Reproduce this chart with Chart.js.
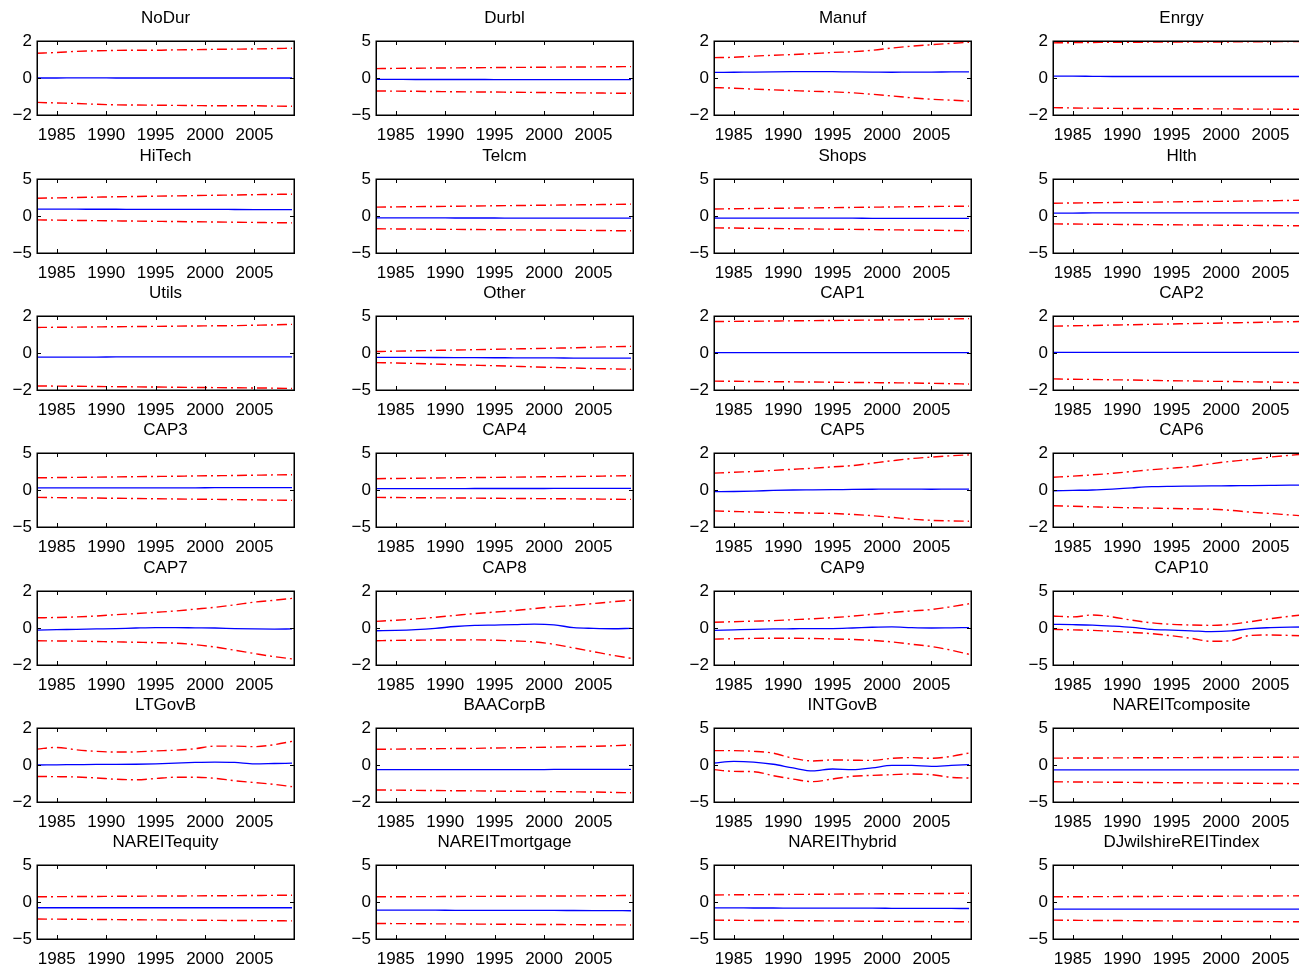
<!DOCTYPE html>
<html><head><meta charset="utf-8">
<script src="https://cdn.jsdelivr.net/npm/chart.js@4.4.1/dist/chart.umd.min.js"></script>
<style>
html,body{margin:0;padding:0;background:#fff;overflow:hidden;width:1299px;height:970px;}
#wrap{position:relative;width:1299px;height:970px;overflow:hidden;background:#fff;}
canvas{position:absolute;}
</style></head><body><div id="wrap"></div>
<script>
// ---------------- DATA ----------------
const years = [1983, 1985, 1987, 1989, 1991, 1993, 1995, 1997, 1999, 2001, 2003, 2005, 2007, 2008.8];
const xTickYears = [1985, 1990, 1995, 2000, 2005];
const panelTitles = ["NoDur","Durbl","Manuf","Enrgy","HiTech","Telcm","Shops","Hlth","Utils","Other","CAP1","CAP2",
  "CAP3","CAP4","CAP5","CAP6","CAP7","CAP8","CAP9","CAP10","LTGovB","BAACorpB","INTGovB","NAREITcomposite",
  "NAREITequity","NAREITmortgage","NAREIThybrid","DJwilshireREITindex"];
const yLimits = [2,5,2,2, 5,5,5,5, 2,5,2,2, 5,5,2,2, 2,2,2,5, 2,2,5,5, 5,5,5,5];

const meanValues = [
  [0.0,0.0,0.01,0.01,0.0,0.0,0.0,0.0,0.0,0.0,0.0,0.0,0.0,0.0],
  [-0.18,-0.19,-0.2,-0.2,-0.2,-0.2,-0.21,-0.21,-0.21,-0.22,-0.22,-0.22,-0.23,-0.23],
  [0.3,0.31,0.32,0.33,0.34,0.35,0.34,0.33,0.32,0.31,0.32,0.32,0.33,0.33],
  [0.1,0.1,0.09,0.08,0.08,0.08,0.08,0.08,0.08,0.08,0.08,0.08,0.08,0.08],
  [0.92,0.92,0.92,0.91,0.91,0.9,0.9,0.9,0.89,0.89,0.88,0.87,0.86,0.85],
  [-0.25,-0.25,-0.26,-0.26,-0.27,-0.27,-0.27,-0.28,-0.28,-0.28,-0.29,-0.29,-0.3,-0.3],
  [-0.27,-0.28,-0.28,-0.29,-0.29,-0.3,-0.3,-0.3,-0.31,-0.31,-0.31,-0.32,-0.32,-0.32],
  [0.4,0.4,0.41,0.41,0.41,0.42,0.42,0.42,0.42,0.43,0.43,0.43,0.43,0.43],
  [-0.22,-0.22,-0.22,-0.22,-0.21,-0.21,-0.21,-0.21,-0.21,-0.21,-0.21,-0.21,-0.21,-0.21],
  [-0.58,-0.59,-0.6,-0.61,-0.62,-0.63,-0.64,-0.65,-0.66,-0.67,-0.68,-0.69,-0.7,-0.7],
  [0.02,0.02,0.02,0.02,0.02,0.02,0.02,0.02,0.02,0.02,0.02,0.02,0.02,0.02],
  [0.03,0.03,0.03,0.03,0.03,0.03,0.03,0.03,0.03,0.03,0.03,0.03,0.03,0.03],
  [0.28,0.28,0.29,0.29,0.29,0.3,0.3,0.3,0.3,0.31,0.31,0.31,0.31,0.31],
  [0.18,0.18,0.19,0.19,0.19,0.2,0.2,0.2,0.2,0.21,0.21,0.21,0.21,0.21],
  [-0.09,-0.08,-0.06,-0.02,0.0,0.01,0.02,0.03,0.04,0.05,0.05,0.04,0.05,0.05],
  [-0.04,-0.02,0.0,0.05,0.12,0.18,0.2,0.21,0.22,0.23,0.24,0.25,0.26,0.27],
  [-0.11,-0.09,-0.07,-0.05,-0.03,0.0,0.02,0.02,0.01,0.0,-0.03,-0.05,-0.06,-0.05],
  [-0.15,-0.13,-0.09,-0.02,0.08,0.14,0.16,0.18,0.21,0.17,0.02,-0.02,-0.04,-0.02],
  [-0.13,-0.1,-0.07,-0.05,-0.04,-0.03,-0.03,0.0,0.04,0.06,0.02,0.0,0.01,0.02],
  [0.5,0.45,0.38,0.25,0.08,-0.18,-0.28,-0.38,-0.5,-0.4,-0.08,0.05,0.12,0.14],
  [0.0,0.01,0.02,0.03,0.03,0.04,0.06,0.1,0.14,0.16,0.14,0.06,0.08,0.1],
  [-0.25,-0.25,-0.25,-0.25,-0.25,-0.25,-0.25,-0.25,-0.25,-0.24,-0.24,-0.24,-0.24,-0.24],
  [0.27,0.5,0.4,0.1,-0.4,-0.8,-0.54,-0.63,-0.4,-0.05,-0.05,-0.18,-0.05,0.05],
  [-0.66,-0.66,-0.66,-0.66,-0.66,-0.66,-0.66,-0.66,-0.66,-0.66,-0.66,-0.66,-0.66,-0.66],
  [-0.78,-0.78,-0.78,-0.78,-0.78,-0.78,-0.78,-0.78,-0.78,-0.78,-0.78,-0.78,-0.78,-0.78],
  [-1.1,-1.1,-1.11,-1.11,-1.12,-1.12,-1.13,-1.13,-1.14,-1.14,-1.15,-1.16,-1.17,-1.18],
  [-0.8,-0.8,-0.81,-0.81,-0.82,-0.82,-0.83,-0.84,-0.84,-0.85,-0.86,-0.86,-0.87,-0.88],
  [-0.95,-0.95,-0.95,-0.95,-0.95,-0.95,-0.95,-0.95,-0.95,-0.95,-0.95,-0.95,-0.95,-0.95]
];

const upperValues = [
  [1.34,1.38,1.44,1.47,1.49,1.5,1.5,1.52,1.53,1.55,1.56,1.57,1.59,1.61],
  [1.27,1.3,1.32,1.35,1.37,1.39,1.41,1.43,1.45,1.47,1.49,1.5,1.52,1.54],
  [1.1,1.12,1.18,1.23,1.27,1.32,1.38,1.42,1.5,1.62,1.72,1.8,1.87,1.93],
  [1.9,1.91,1.92,1.93,1.93,1.94,1.94,1.95,1.95,1.95,1.96,1.96,1.97,1.97],
  [2.4,2.45,2.5,2.55,2.6,2.64,2.68,2.72,2.76,2.8,2.84,2.88,2.92,2.95],
  [1.2,1.23,1.26,1.29,1.32,1.35,1.38,1.41,1.44,1.47,1.5,1.53,1.57,1.6],
  [0.95,0.98,1.01,1.04,1.07,1.1,1.13,1.16,1.19,1.22,1.25,1.28,1.31,1.33],
  [1.73,1.76,1.79,1.82,1.85,1.88,1.91,1.94,1.97,2.0,2.03,2.06,2.1,2.13],
  [1.38,1.39,1.4,1.41,1.42,1.43,1.44,1.45,1.46,1.47,1.48,1.5,1.52,1.55],
  [0.2,0.25,0.3,0.35,0.4,0.45,0.5,0.55,0.6,0.65,0.7,0.78,0.85,0.9],
  [1.7,1.71,1.72,1.73,1.74,1.75,1.76,1.77,1.78,1.79,1.8,1.82,1.84,1.86],
  [1.45,1.47,1.49,1.51,1.53,1.55,1.57,1.59,1.61,1.63,1.65,1.67,1.69,1.71],
  [1.65,1.68,1.71,1.74,1.77,1.8,1.83,1.86,1.9,1.93,1.96,2.0,2.04,2.07],
  [1.53,1.56,1.59,1.62,1.65,1.68,1.71,1.74,1.77,1.8,1.83,1.86,1.9,1.93],
  [0.91,0.96,1.0,1.06,1.12,1.18,1.25,1.32,1.45,1.58,1.7,1.78,1.85,1.9],
  [0.69,0.75,0.82,0.9,1.0,1.1,1.18,1.27,1.42,1.55,1.65,1.78,1.88,1.96],
  [0.55,0.57,0.6,0.65,0.72,0.78,0.85,0.92,1.02,1.12,1.25,1.4,1.5,1.6],
  [0.36,0.42,0.49,0.58,0.68,0.78,0.86,0.94,1.05,1.15,1.22,1.32,1.42,1.5],
  [0.31,0.34,0.37,0.4,0.45,0.5,0.56,0.64,0.74,0.84,0.92,1.0,1.15,1.31],
  [1.62,1.5,1.76,1.5,1.05,0.7,0.5,0.4,0.36,0.5,0.86,1.26,1.6,1.85],
  [0.86,0.95,0.82,0.74,0.7,0.71,0.76,0.8,0.88,1.02,1.02,0.99,1.1,1.28],
  [0.85,0.86,0.87,0.88,0.89,0.9,0.92,0.93,0.95,0.97,0.99,1.01,1.04,1.08],
  [1.94,1.94,1.85,1.6,0.9,0.55,0.68,0.65,0.62,0.9,1.0,0.9,1.17,1.62],
  [0.93,0.94,0.95,0.96,0.97,0.98,0.99,1.0,1.01,1.02,1.03,1.04,1.06,1.07],
  [0.7,0.72,0.74,0.75,0.77,0.78,0.8,0.81,0.83,0.84,0.86,0.88,0.9,0.92],
  [0.7,0.71,0.72,0.73,0.75,0.76,0.77,0.78,0.8,0.81,0.82,0.84,0.86,0.88],
  [0.95,0.97,0.99,1.01,1.03,1.04,1.06,1.08,1.1,1.11,1.13,1.14,1.16,1.18],
  [0.7,0.71,0.72,0.73,0.74,0.75,0.76,0.77,0.78,0.79,0.8,0.81,0.83,0.85]
];

const lowerValues = [
  [-1.32,-1.35,-1.38,-1.42,-1.45,-1.46,-1.47,-1.48,-1.49,-1.5,-1.5,-1.5,-1.52,-1.53],
  [-1.75,-1.78,-1.8,-1.83,-1.86,-1.88,-1.9,-1.93,-1.95,-1.98,-2.0,-2.02,-2.05,-2.07],
  [-0.52,-0.55,-0.6,-0.64,-0.68,-0.72,-0.75,-0.8,-0.88,-0.97,-1.07,-1.15,-1.2,-1.25],
  [-1.6,-1.62,-1.63,-1.64,-1.65,-1.65,-1.66,-1.66,-1.67,-1.67,-1.68,-1.68,-1.69,-1.7],
  [-0.53,-0.56,-0.6,-0.63,-0.66,-0.69,-0.72,-0.75,-0.78,-0.81,-0.84,-0.87,-0.9,-0.93],
  [-1.73,-1.75,-1.77,-1.79,-1.81,-1.83,-1.85,-1.87,-1.89,-1.91,-1.93,-1.95,-1.98,-2.0],
  [-1.6,-1.63,-1.66,-1.69,-1.72,-1.75,-1.78,-1.81,-1.84,-1.87,-1.9,-1.93,-1.96,-1.99],
  [-1.07,-1.09,-1.11,-1.13,-1.15,-1.17,-1.19,-1.21,-1.23,-1.25,-1.27,-1.29,-1.31,-1.33],
  [-1.78,-1.79,-1.8,-1.81,-1.82,-1.83,-1.84,-1.85,-1.86,-1.87,-1.88,-1.89,-1.9,-1.92],
  [-1.3,-1.35,-1.42,-1.5,-1.58,-1.65,-1.72,-1.8,-1.88,-1.95,-2.02,-2.1,-2.15,-2.2],
  [-1.52,-1.53,-1.54,-1.55,-1.56,-1.57,-1.58,-1.59,-1.6,-1.61,-1.62,-1.64,-1.66,-1.68],
  [-1.4,-1.42,-1.43,-1.45,-1.46,-1.48,-1.5,-1.51,-1.53,-1.54,-1.56,-1.57,-1.59,-1.61],
  [-1.0,-1.03,-1.06,-1.09,-1.12,-1.15,-1.18,-1.21,-1.24,-1.27,-1.3,-1.33,-1.37,-1.4],
  [-1.0,-1.02,-1.04,-1.06,-1.08,-1.1,-1.12,-1.14,-1.16,-1.18,-1.2,-1.22,-1.25,-1.27],
  [-1.13,-1.16,-1.19,-1.21,-1.23,-1.25,-1.27,-1.32,-1.39,-1.48,-1.58,-1.64,-1.67,-1.69],
  [-0.85,-0.88,-0.91,-0.94,-0.96,-0.98,-1.0,-1.02,-1.04,-1.1,-1.2,-1.27,-1.35,-1.42],
  [-0.69,-0.7,-0.71,-0.73,-0.75,-0.77,-0.79,-0.82,-0.9,-1.03,-1.2,-1.38,-1.55,-1.67],
  [-0.69,-0.67,-0.66,-0.65,-0.65,-0.64,-0.66,-0.7,-0.75,-0.88,-1.08,-1.28,-1.48,-1.64],
  [-0.6,-0.58,-0.56,-0.55,-0.55,-0.57,-0.59,-0.62,-0.67,-0.75,-0.88,-1.0,-1.2,-1.42],
  [-0.18,-0.25,-0.32,-0.45,-0.6,-0.77,-1.05,-1.4,-1.8,-1.7,-1.0,-0.95,-1.0,-1.08],
  [-0.62,-0.63,-0.65,-0.7,-0.77,-0.8,-0.73,-0.66,-0.66,-0.72,-0.85,-0.95,-1.05,-1.17],
  [-1.35,-1.36,-1.37,-1.38,-1.39,-1.4,-1.41,-1.42,-1.43,-1.44,-1.45,-1.46,-1.48,-1.5],
  [-0.63,-0.86,-0.9,-1.45,-1.9,-2.25,-1.89,-1.53,-1.4,-1.31,-1.22,-1.31,-1.67,-1.76],
  [-2.27,-2.29,-2.31,-2.33,-2.35,-2.37,-2.39,-2.41,-2.43,-2.45,-2.47,-2.49,-2.51,-2.53],
  [-2.3,-2.32,-2.34,-2.36,-2.38,-2.4,-2.42,-2.44,-2.46,-2.48,-2.5,-2.51,-2.53,-2.55],
  [-2.9,-2.92,-2.93,-2.95,-2.96,-2.98,-3.0,-3.01,-3.03,-3.04,-3.06,-3.07,-3.09,-3.1],
  [-2.45,-2.47,-2.49,-2.5,-2.52,-2.54,-2.56,-2.58,-2.6,-2.61,-2.63,-2.65,-2.67,-2.68],
  [-2.45,-2.47,-2.49,-2.5,-2.52,-2.54,-2.56,-2.58,-2.6,-2.61,-2.63,-2.65,-2.67,-2.68]
];

// ---------------- LAYOUT / STYLE ----------------
const COL_LEFT = [0, 339, 677, 1016];
const ROW_TOP = [0, 138, 275, 412, 550, 687, 824];
const CW = 331, CH = 143;
const FS = 17;
const FONT = '"Liberation Sans", Arial, Helvetica, sans-serif';
Chart.defaults.font.family = FONT;
Chart.defaults.color = '#000';

const framePlugin = {
  id: 'frame',
  afterDatasetsDraw(chart) {
    const {ctx, chartArea: a, scales} = chart;
    const L = Math.round(a.left), R = Math.round(a.right), T = Math.round(a.top), B = Math.round(a.bottom);
    ctx.save();
    ctx.strokeStyle = '#000';
    ctx.lineWidth = 1;
    const tk = 4;
    ctx.beginPath();
    xTickYears.forEach(v => {
      const px = Math.round(scales.x.getPixelForValue(v)) + 0.5;
      ctx.moveTo(px, B); ctx.lineTo(px, B - tk);
      ctx.moveTo(px, T); ctx.lineTo(px, T + tk);
    });
    const lim = chart.$lim;
    [-lim, 0, lim].forEach(v => {
      const py = Math.round(scales.y.getPixelForValue(v)) + 0.5;
      ctx.moveTo(L, py); ctx.lineTo(L + tk, py);
      ctx.moveTo(R, py); ctx.lineTo(R - tk, py);
    });
    ctx.stroke();
    ctx.lineWidth = 1.5;
    ctx.strokeRect(L + 0.25, T + 0.25, R - L, B - T);
    ctx.restore();
  }
};

const wrap = document.getElementById('wrap');
panelTitles.forEach((title, i) => {
  const r = Math.floor(i / 4), c = i % 4;
  const cv = document.createElement('canvas');
  cv.width = CW; cv.height = CH;
  cv.style.left = COL_LEFT[c] + 'px';
  cv.style.top = ROW_TOP[r] + 'px';
  cv.style.width = CW + 'px'; cv.style.height = CH + 'px';
  wrap.appendChild(cv);
  const lim = yLimits[i];
  const toPts = arr => arr.map((v, k) => ({x: years[k], y: v}));
  const ch = new Chart(cv, {
    type: 'line',
    data: {
      datasets: [
        {data: toPts(upperValues[i]), borderColor: '#ff0000', borderWidth: 1.4, borderDash: [10, 4, 2, 4], pointRadius: 0, cubicInterpolationMode: 'monotone', fill: false},
        {data: toPts(lowerValues[i]), borderColor: '#ff0000', borderWidth: 1.4, borderDash: [10, 4, 2, 4], pointRadius: 0, cubicInterpolationMode: 'monotone', fill: false},
        {data: toPts(meanValues[i]), borderColor: '#0000ff', borderWidth: 1.3, pointRadius: 0, cubicInterpolationMode: 'monotone', fill: false}
      ]
    },
    options: {
      responsive: false,
      animation: false,
      devicePixelRatio: 1,
      layout: {padding: {left: 0, right: 37, top: 0, bottom: 0}},
      plugins: {
        legend: {display: false},
        tooltip: {enabled: false},
        title: {display: true, fullSize: false, text: title, color: '#000', font: {size: FS, weight: 'normal', family: FONT, lineHeight: 1.2}, padding: {top: 8, bottom: 12.6}}
      },
      scales: {
        x: {
          type: 'linear', min: 1983, max: 2009,
          afterBuildTicks: s => { s.ticks = xTickYears.map(v => ({value: v})); },
          afterFit: s => { s.height = 28; },
          ticks: {callback: v => String(v), padding: 10.5, maxRotation: 0, autoSkip: false, color: '#000', font: {size: FS, family: FONT}},
          grid: {display: false, drawTicks: false},
          border: {display: false}
        },
        y: {
          type: 'linear', min: -lim, max: lim,
          afterBuildTicks: s => { s.ticks = [-lim, 0, lim].map(v => ({value: v})); },
          afterFit: s => { s.width = 37; },
          ticks: {callback: v => (v < 0 ? '\u2212' + Math.abs(v) : String(v)), padding: 5, color: '#000', font: {size: FS, family: FONT}},
          grid: {display: false, drawTicks: false},
          border: {display: false}
        }
      }
    },
    plugins: [framePlugin]
  });
  ch.$lim = lim;
  ch.draw();
});
</script></body></html>
